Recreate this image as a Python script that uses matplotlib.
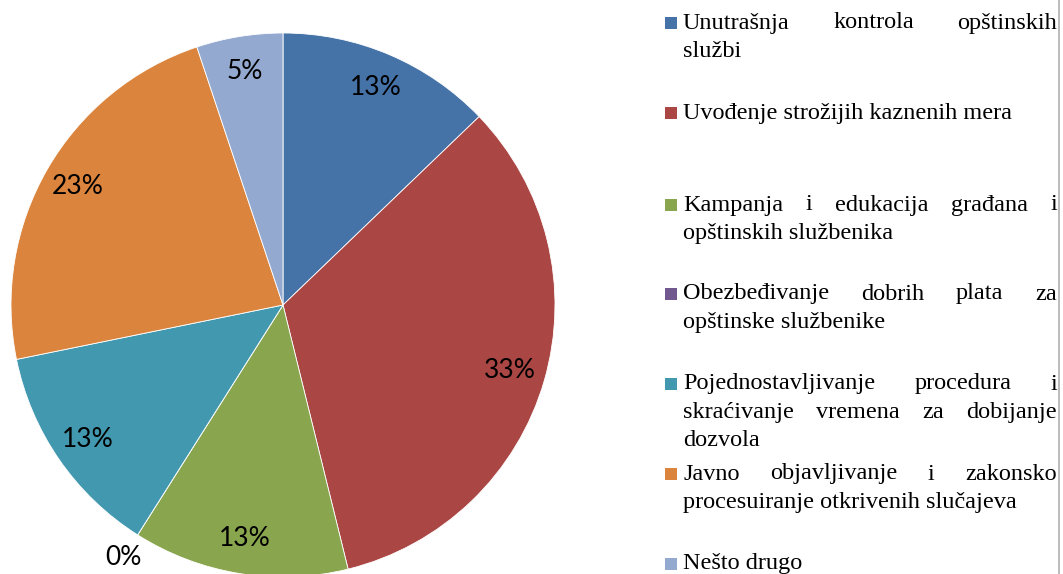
import matplotlib
matplotlib.use("Agg")

import matplotlib.pyplot as plt
from matplotlib.patches import Rectangle
import numpy as np

# Survey answers (counts), drawn as percentage pie
categories = [
    "Unutrašnja kontrola opštinskih službi",
    "Uvođenje strožijih kaznenih mera",
    "Kampanja i edukacija građana i opštinskih službenika",
    "Obezbeđivanje dobrih plata za opštinske službenike",
    "Pojednostavljivanje procedura i skraćivanje vremena za dobijanje dozvola",
    "Javno objavljivanje i zakonsko procesuiranje otkrivenih slučajeva",
    "Nešto drugo",
]
counts = [5, 13, 5, 0, 5, 9, 2]

# legend lines, broken as in the printed layout
legend_lines = [
    ["Unutrašnja kontrola opštinskih", "službi"],
    ["Uvođenje strožijih kaznenih mera"],
    ["Kampanja i edukacija građana i", "opštinskih službenika"],
    ["Obezbeđivanje dobrih plata za", "opštinske službenike"],
    ["Pojednostavljivanje procedura i", "skraćivanje vremena za dobijanje", "dozvola"],
    ["Javno objavljivanje i zakonsko", "procesuiranje otkrivenih slučajeva"],
    ["Nešto drugo"],
]
legend_top = [23, 113, 205, 294, 384, 474, 564]

colors = ["#4572A7", "#AA4643", "#89A54E", "#71588F", "#4198AF", "#DB843D", "#93A9CF"]

W, H = 1063, 574
fig = plt.figure(figsize=(W / 100, H / 100), dpi=100)
ax = fig.add_axes([0, 0, 1, 1])
ax.set_xlim(0, W)
ax.set_ylim(0, H)
ax.axis("off")

cx, cy, R = 283, H - 305, 272
wedges, _ = ax.pie(counts, colors=colors, startangle=90, counterclock=False,
                   center=(cx, cy), radius=R,
                   wedgeprops=dict(edgecolor="white", linewidth=0.6))
ax.set_xlim(0, W)
ax.set_ylim(0, H)
ax.set_aspect("equal")

total = sum(counts)
for w, c in zip(wedges, counts):
    mid = np.deg2rad((w.theta1 + w.theta2) / 2)
    d = 0.87 if c > 0 else 1.1
    ax.text(cx + d * R * np.cos(mid), cy + d * R * np.sin(mid),
            f"{round(100 * c / total)}%", ha="center", va="center",
            fontsize=19, family="Lato", color="black")

# justified legend text
renderer = fig.canvas.get_renderer()
x0, x1 = 683, 1057
line_h = 28.5
font = dict(family="Liberation Serif", fontsize=17.5, color="black", va="center")
for lines, top, col in zip(legend_lines, legend_top, colors):
    ax.add_patch(Rectangle((665, H - top - 6), 12, 12, facecolor=col, edgecolor="none"))
    for i, line in enumerate(lines):
        y = H - (top + i * line_h)
        words = line.split()
        last = i == len(lines) - 1
        if last or len(words) == 1:
            ax.text(x0, y, line, ha="left", **font)
            continue
        items = [ax.text(0, y, wd, ha="left", **font) for wd in words]
        widths = [t.get_window_extent(renderer).width for t in items]
        gap = (x1 - x0 - sum(widths)) / (len(words) - 1)
        x = x0
        for t, wd in zip(items, widths):
            t.set_x(x)
            x += wd + gap

ax.plot([1059, 1059], [0, H], color="#b0b0b0", linewidth=1.2)

fig.savefig("out.png", dpi=100)
